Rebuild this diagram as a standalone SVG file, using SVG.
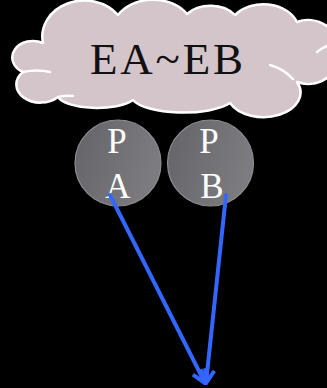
<svg xmlns="http://www.w3.org/2000/svg" width="327" height="388" viewBox="0 0 327 388">
  <style>
    .cloud { fill: #d4c5cb; stroke: #ffffff; stroke-width: 2.5; stroke-linejoin: round; }
    .inner { fill: none; stroke: #ffffff; stroke-width: 2.5; stroke-linecap: round; }
    .ball { fill: url(#ballFill); stroke: #8e8e92; stroke-width: 1.2; }
    .lbl { font-family: "Liberation Serif", "Times New Roman", serif; fill: #ffffff; font-size: 35px; text-anchor: middle; }
    .title { font-family: "Liberation Serif", "Times New Roman", serif; fill: #111111; font-size: 45px; }
    .link { stroke: #3366ff; stroke-width: 4; fill: none; stroke-linecap: round; marker-end: url(#head); }
  </style>
  <defs>
    <linearGradient id="ballFill" x1="0" y1="0" x2="1" y2="0.3">
      <stop offset="0" stop-color="#646468"/>
      <stop offset="1" stop-color="#7b7b80"/>
    </linearGradient>
    <marker id="head" viewBox="0 0 20 20" refX="16" refY="10" markerWidth="20" markerHeight="20" markerUnits="userSpaceOnUse" orient="auto">
      <path d="M3,3 L16,10 L3,17" fill="none" stroke="#3366ff" stroke-width="4" stroke-linejoin="round"/>
    </marker>
  </defs>

  <rect x="0" y="0" width="327" height="388" fill="#000000"/>

  <g id="cloud">
    <path class="cloud" d="M43,43
      A42,36 0 0 1 118,15
      A40,30 0 0 1 187,14
      A30,22 0 0 1 235,15
      A36,28 0 0 1 297,22
      A32,32 0 1 1 297,82
      A36,24 0 0 1 230,103
      A52,17 0 0 1 133,100
      A40,14 0 0 1 58,97
      A24,18 0 0 1 23,72
      A20,16 0 0 1 43,43 Z"/>
    <path class="inner" d="M23,72 Q37,69 50,72"/>
    <path class="inner" d="M58,97 Q66,95 73,96"/>
    <path class="inner" d="M270,65 Q284,69 293,79"/>
    <path class="inner" d="M317,52 Q322,48 327,46"/>
    <text class="title" x="90" y="74" textLength="153" lengthAdjust="spacing">EA~EB</text>
  </g>

  <g id="PA">
    <circle class="ball" cx="118" cy="163" r="43"/>
    <text class="lbl" x="117" y="153">P</text>
    <text class="lbl" x="118" y="198">A</text>
  </g>

  <g id="PB">
    <circle class="ball" cx="210.5" cy="163" r="43"/>
    <text class="lbl" x="209" y="153">P</text>
    <text class="lbl" x="212" y="198">B</text>
  </g>

  <g id="connectors">
    <line class="link" x1="110" y1="195" x2="205" y2="383"/>
    <line class="link" x1="226" y1="195" x2="206" y2="383"/>
  </g>
</svg>
